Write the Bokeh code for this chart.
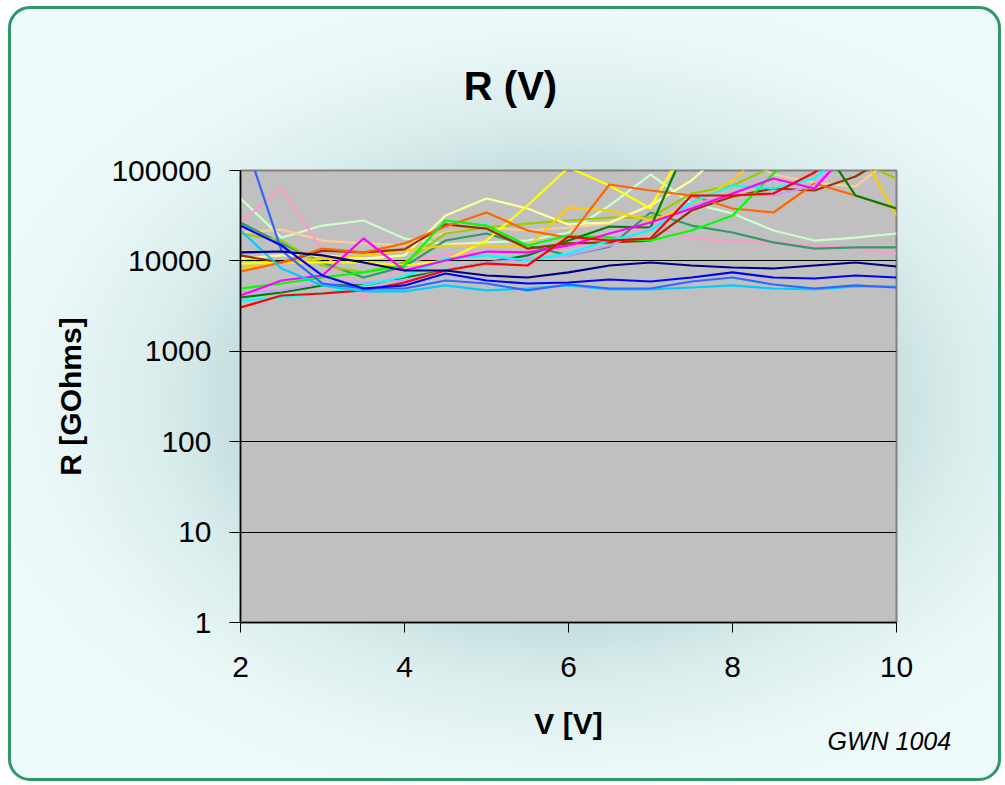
from bokeh.plotting import figure
from bokeh.models import FixedTicker, NumeralTickFormatter, Label, Range1d
from bokeh.embed import file_html
from bokeh.resources import INLINE

# Voltage steps [V]
voltage = [2.0, 2.5, 3.0, 3.5, 4.0, 4.5, 5.0, 5.5, 6.0, 6.5, 7.0, 7.5, 8.0, 8.5, 9.0, 9.5, 10.0]

# Resistance [GOhms] per channel (values above 100000 run off the top of the chart)
light_green = [49000, 18100, 24600, 28000, 17700, 15200, 16000, 16800, 20600, 41000, 90300, 43100, 33500, 21700, 16800, 18100, 20100]
peach = [20600, 22200, 16800, 15600, 14800, 20600, 23400, 21700, 23400, 25900, 41000, 200000, 160000, 90300, 73600, 66500, 150000]
pink = [26600, 63200, 13000, 3840, 9600, 11800, 12400, 12700, 14100, 17700, 24600, 17700, 16800, 16000, 14800, 13700, 12100]
sea_green = [26600, 15600, 9600, 6550, 8670, 16800, 20100, 14800, 11500, 14400, 34300, 24600, 20600, 16000, 13700, 14100, 14100]
olive = [20100, 16800, 8890, 7450, 9600, 20100, 23400, 25900, 28000, 30200, 30200, 55700, 68200, 110000, 165000, 130000, 81600]
light_yellow = [10600, 11500, 11500, 10600, 11500, 31800, 49000, 38000, 25300, 26600, 41000, 77500, 200000, 200000, 200000, 200000, 200000]
yellow = [9350, 9600, 9600, 9600, 8890, 10100, 16800, 41000, 108000, 68200, 38000, 250000, 250000, 250000, 250000, 250000, 250000]
gold = [8240, 9600, 10600, 11500, 13000, 14800, 14800, 14100, 39000, 36100, 28000, 41000, 77500, 200000, 200000, 200000, 31800]
brown = [11500, 9600, 13000, 12400, 13400, 25300, 22800, 13700, 15600, 16000, 16800, 36100, 51600, 63200, 60100, 85900, 160000]
orange = [7640, 9600, 13700, 12400, 15600, 24000, 34300, 21700, 18100, 70000, 60100, 52900, 38000, 34300, 71800, 52900, 38000]
green = [4950, 5620, 6550, 7450, 8890, 28000, 24600, 14800, 19100, 18100, 16800, 21700, 31800, 92700, 200000, 200000, 200000]
dark_green = [3940, 4470, 5350, 5350, 6550, 7830, 9600, 11500, 16800, 24000, 23400, 250000, 250000, 250000, 250000, 52900, 38000]
lavender = [4470, 4710, 5620, 5770, 6070, 7830, 9600, 10600, 11500, 14800, 22800, 41000, 55700, 52900, 68200, 200000, 200000]
cyan = [3650, 3940, 4360, 5350, 6720, 10600, 11500, 10100, 12100, 16800, 21700, 44300, 68200, 63200, 81600, 200000, 200000]
magenta = [4140, 6070, 6890, 17700, 7830, 10100, 12700, 12400, 14800, 20100, 26600, 38000, 55700, 81600, 63200, 200000, 200000]
red = [3050, 4140, 4360, 4710, 5770, 7830, 9350, 8890, 18600, 16800, 17700, 52900, 52900, 55700, 95000, 200000, 200000]
sky_blue = [21700, 8240, 5350, 4590, 4590, 5350, 4710, 4950, 5350, 4830, 4830, 5080, 5350, 4950, 4830, 5210, 5210]
royal_blue = [300000, 13000, 5620, 4950, 4950, 6070, 5620, 4710, 5480, 4950, 4950, 5920, 6550, 5480, 4950, 5350, 5080]
blue = [24600, 14800, 6890, 4950, 5350, 7260, 6070, 5620, 5770, 6230, 5920, 6550, 7450, 6550, 6390, 6890, 6550]
navy = [12400, 12700, 11500, 9600, 7830, 7830, 6890, 6550, 7450, 8890, 9600, 8890, 8450, 8240, 8890, 9600, 8670]

series = [
    (light_green, "#CCFFCC"), (peach, "#FFCC99"), (pink, "#FF99CC"), (sea_green, "#339966"),
    (olive, "#99CC00"), (light_yellow, "#FFFF99"), (yellow, "#FFFF00"), (gold, "#FFCC00"),
    (brown, "#993300"), (orange, "#FF6600"), (green, "#00FF00"), (dark_green, "#008000"),
    (lavender, "#CC99FF"), (cyan, "#00FFFF"), (magenta, "#FF00FF"), (red, "#FF0000"),
    (sky_blue, "#00CCFF"), (royal_blue, "#3366FF"), (blue, "#0000FF"), (navy, "#000080"),
]

x_ticks = [2, 4, 6, 8, 10]
y_ticks = [1, 10, 100, 1000, 10000, 100000]

X0, X1, Y0, Y1 = 2, 10, 1, 100000
FW, FH = 656, 452
W, H = 993, 775
ML, MT = 229, 161
PX_X = FW / (X1 - X0)     # pixels per volt
PX_DEC = FH / 5.0         # pixels per decade

p = figure(width=W, height=H, x_range=Range1d(X0, X1), y_range=Range1d(Y0, Y1),
           y_axis_type="log", output_backend="svg", toolbar_location=None,
           min_border_left=ML, min_border_right=W - ML - FW,
           min_border_top=MT, min_border_bottom=H - MT - FH)

p.border_fill_color = None
p.background_fill_color = "#C0C0C0"
p.outline_line_color = "#808080"
p.outline_line_width = 2

for vals, col in series:
    p.line(voltage, vals, line_color=col, line_width=2.2)

p.xgrid.visible = False
p.ygrid.ticker = FixedTicker(ticks=y_ticks, minor_ticks=[])
p.ygrid.grid_line_color = "black"
p.ygrid.grid_line_width = 1

p.xaxis.ticker = FixedTicker(ticks=x_ticks, minor_ticks=[])
p.yaxis.ticker = FixedTicker(ticks=y_ticks, minor_ticks=[])
p.yaxis.formatter = NumeralTickFormatter(format="0")

for ax in (p.xaxis, p.yaxis):
    ax.major_label_text_font = "Liberation Sans"
    ax.major_label_text_font_size = "30px"
    ax.major_label_text_color = "black"
    ax.axis_label_text_font = "Liberation Sans"
    ax.axis_label_text_font_size = "30px"
    ax.axis_label_text_font_style = "bold"
    ax.axis_label_text_color = "black"
    ax.axis_line_color = "black"
    ax.axis_line_width = 1.5
    ax.major_tick_line_color = "black"
    ax.major_tick_in = 0
    ax.minor_tick_line_color = None

p.xaxis.axis_label = "V [V]"
p.yaxis.axis_label = "R [GOhms]"
p.xaxis.major_tick_out = 10
p.yaxis.major_tick_out = 11
p.xaxis.major_label_standoff = 24
p.yaxis.major_label_standoff = 18
p.xaxis.axis_label_standoff = 27
p.yaxis.axis_label_standoff = 21

# title and footnote (positioned against the plot scales, living in side panels)
p.add_layout(Label(x=X0 + 270 / PX_X, y=Y1 * 10 ** (85 / PX_DEC), text="R (V)",
                   text_align="center", text_baseline="alphabetic",
                   text_font="Liberation Sans", text_font_size="40px",
                   text_font_style="bold", text_color="black"), "above")
p.add_layout(Label(x=X0 + 587 / PX_X, y=Y0 / 10 ** (118 / PX_DEC), text="GWN 1004",
                   text_align="left", text_baseline="alphabetic",
                   text_font="Liberation Sans", text_font_size="25px",
                   text_font_style="italic", text_color="black"), "below")

# rounded green frame and soft teal glow behind the plot area
p.styles = {"margin-left": "8px", "margin-top": "6px",
            "border": "3px solid #2E9966", "border-radius": "22px",
            "overflow": "hidden",
            "background": "radial-gradient(ellipse 590px 410px at 550px 390px, "
                          "#BAD4D4 0%, #C0D9D9 50%, #D9ECEC 68%, #EBF8F8 90%, #EEFAFA 100%)"}

open("out.html", "w").write(file_html(p, INLINE))
